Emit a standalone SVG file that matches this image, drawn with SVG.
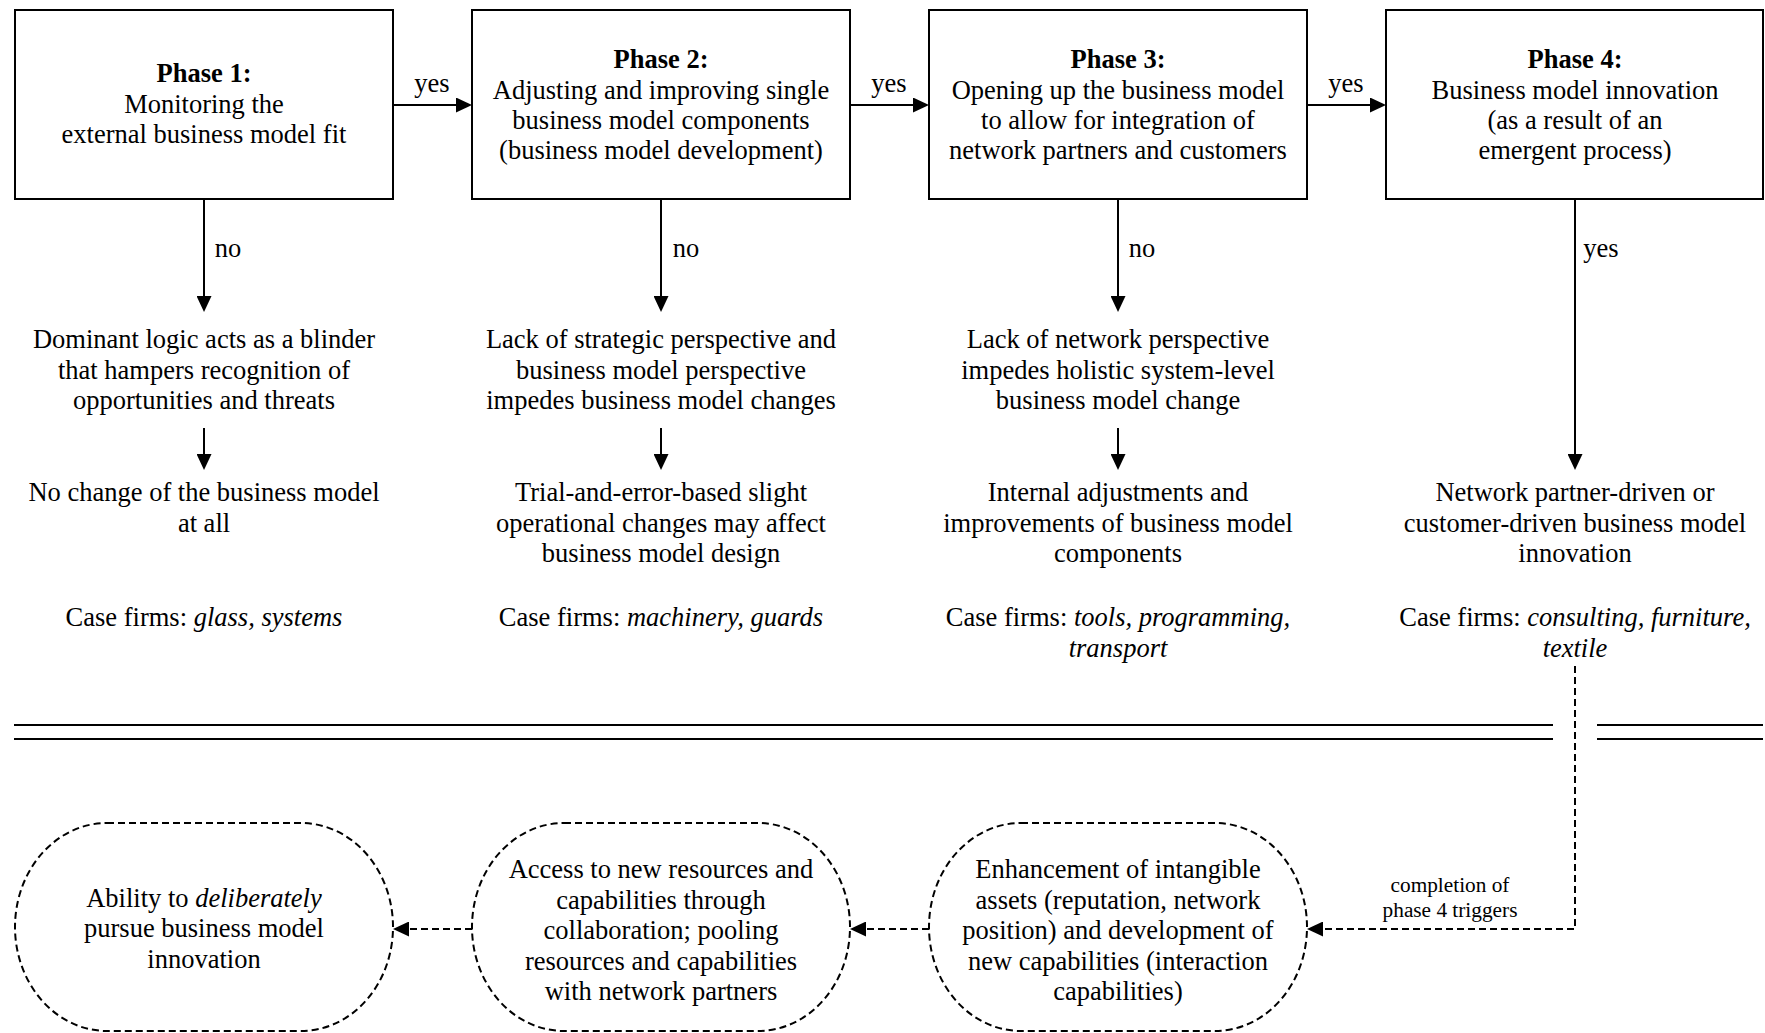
<svg xmlns="http://www.w3.org/2000/svg" width="1765" height="1033" viewBox="0 0 1765 1033">
  <style>
    .bg { fill: #ffffff; }
    .box { fill: #ffffff; stroke: #000000; stroke-width: 2; }
    .oval { fill: #ffffff; stroke: #000000; stroke-width: 2; stroke-dasharray: 7 4; }
    .t { font-family: "Liberation Serif", "Times New Roman", serif; font-size: 26.5px; fill: #000000; text-anchor: middle; }
    .small { font-family: "Liberation Serif", "Times New Roman", serif; font-size: 21.3px; fill: #000000; text-anchor: middle; }
    .b { font-weight: bold; }
    .i { font-style: italic; }
    .line { fill: none; stroke: #000000; stroke-width: 2; }
    .dash { fill: none; stroke: #000000; stroke-width: 2; stroke-dasharray: 7 4; }
    .arrow { marker-end: url(#head); }
  </style>
  <defs>
    <marker id="head" markerUnits="userSpaceOnUse" markerWidth="16" markerHeight="15" refX="6" refY="7.5" orient="auto">
      <path d="M0,0 L16,7.5 L0,15 Z" fill="#000000"/>
    </marker>
  </defs>

  <rect class="bg" x="0" y="0" width="1765" height="1033"/>

  <!-- connectors -->
  <g id="connectors">
    <!-- yes: phase to phase -->
    <path class="line arrow" d="M393,105 H462"/>
    <path class="line arrow" d="M850,105 H919"/>
    <path class="line arrow" d="M1307,105 H1376"/>
    <!-- outcomes below each phase -->
    <path class="line arrow" d="M204,200 V302"/>
    <path class="line arrow" d="M661,200 V302"/>
    <path class="line arrow" d="M1118,200 V302"/>
    <path class="line arrow" d="M1575,200 V460"/>
    <path class="line arrow" d="M204,428 V460"/>
    <path class="line arrow" d="M661,428 V460"/>
    <path class="line arrow" d="M1118,428 V460"/>
    <!-- separator -->
    <path class="line" d="M14,725 H1553 M1597,725 H1763 M14,739 H1553 M1597,739 H1763"/>
    <!-- lower chain -->
    <path class="dash arrow" d="M1575,666 V929 H1317"/>
    <path class="dash arrow" d="M929,929 H860"/>
    <path class="dash arrow" d="M472,929 H403"/>
    <!-- connector labels -->
    <text class="t" x="432" y="92">yes</text>
    <text class="t" x="889" y="92">yes</text>
    <text class="t" x="1346" y="92">yes</text>
    <text class="t" x="228" y="257">no</text>
    <text class="t" x="686" y="257">no</text>
    <text class="t" x="1142" y="257">no</text>
    <text class="t" x="1601" y="257">yes</text>
    <text class="small" x="1450" y="892">completion of</text>
    <text class="small" x="1450" y="917">phase 4 triggers</text>
  </g>

  <!-- phase boxes -->
  <g id="phase1">
    <rect class="box" x="15" y="10" width="378" height="189"/>
    <text class="t" x="204" y="82"><tspan class="b">Phase 1:</tspan><tspan x="204" y="112.5">Monitoring the</tspan><tspan x="204" y="143">external business model fit</tspan></text>
  </g>
  <g id="phase2">
    <rect class="box" x="472" y="10" width="378" height="189"/>
    <text class="t" x="661" y="68"><tspan class="b">Phase 2:</tspan><tspan x="661" y="98.5">Adjusting and improving single</tspan><tspan x="661" y="129">business model components</tspan><tspan x="661" y="159">(business model development)</tspan></text>
  </g>
  <g id="phase3">
    <rect class="box" x="929" y="10" width="378" height="189"/>
    <text class="t" x="1118" y="68"><tspan class="b">Phase 3:</tspan><tspan x="1118" y="98.5">Opening up the business model</tspan><tspan x="1118" y="129">to allow for integration of</tspan><tspan x="1118" y="159">network partners and customers</tspan></text>
  </g>
  <g id="phase4">
    <rect class="box" x="1386" y="10" width="377" height="189"/>
    <text class="t" x="1575" y="68"><tspan class="b">Phase 4:</tspan><tspan x="1575" y="98.5">Business model innovation</tspan><tspan x="1575" y="129">(as a result of an</tspan><tspan x="1575" y="159">emergent process)</tspan></text>
  </g>

  <!-- barriers -->
  <g id="barrier1">
    <text class="t" x="204" y="348">Dominant logic acts as a blinder<tspan x="204" y="378.5">that hampers recognition of</tspan><tspan x="204" y="409">opportunities and threats</tspan></text>
  </g>
  <g id="barrier2">
    <text class="t" x="661" y="348">Lack of strategic perspective and<tspan x="661" y="378.5">business model perspective</tspan><tspan x="661" y="409">impedes business model changes</tspan></text>
  </g>
  <g id="barrier3">
    <text class="t" x="1118" y="348">Lack of network perspective<tspan x="1118" y="378.5">impedes holistic system-level</tspan><tspan x="1118" y="409">business model change</tspan></text>
  </g>

  <!-- outcomes -->
  <g id="outcome1">
    <text class="t" x="204" y="501">No change of the business model<tspan x="204" y="531.5">at all</tspan></text>
    <text class="t" x="204" y="626">Case firms: <tspan class="i">glass, systems</tspan></text>
  </g>
  <g id="outcome2">
    <text class="t" x="661" y="501">Trial-and-error-based slight<tspan x="661" y="531.5">operational changes may affect</tspan><tspan x="661" y="562">business model design</tspan></text>
    <text class="t" x="661" y="626">Case firms: <tspan class="i">machinery, guards</tspan></text>
  </g>
  <g id="outcome3">
    <text class="t" x="1118" y="501">Internal adjustments and<tspan x="1118" y="531.5">improvements of business model</tspan><tspan x="1118" y="562">components</tspan></text>
    <text class="t" x="1118" y="626">Case firms: <tspan class="i">tools, programming,</tspan><tspan class="i" x="1118" y="656.5">transport</tspan></text>
  </g>
  <g id="outcome4">
    <text class="t" x="1575" y="501">Network partner-driven or<tspan x="1575" y="531.5">customer-driven business model</tspan><tspan x="1575" y="562">innovation</tspan></text>
    <text class="t" x="1575" y="626">Case firms: <tspan class="i">consulting, furniture,</tspan><tspan class="i" x="1575" y="656.5">textile</tspan></text>
  </g>

  <!-- capability chain -->
  <g id="enhancement">
    <rect class="oval" x="929" y="823" width="378" height="208" rx="92" ry="104"/>
    <text class="t" x="1118" y="878">Enhancement of intangible<tspan x="1118" y="908.5">assets (reputation, network</tspan><tspan x="1118" y="939">position) and development of</tspan><tspan x="1118" y="969.5">new capabilities (interaction</tspan><tspan x="1118" y="1000">capabilities)</tspan></text>
  </g>
  <g id="access">
    <rect class="oval" x="472" y="823" width="378" height="208" rx="92" ry="104"/>
    <text class="t" x="661" y="878">Access to new resources and<tspan x="661" y="908.5">capabilities through</tspan><tspan x="661" y="939">collaboration; pooling</tspan><tspan x="661" y="969.5">resources and capabilities</tspan><tspan x="661" y="1000">with network partners</tspan></text>
  </g>
  <g id="ability">
    <rect class="oval" x="15" y="823" width="378" height="208" rx="92" ry="104"/>
    <text class="t" x="204" y="906.5">Ability to <tspan class="i">deliberately</tspan><tspan x="204" y="937">pursue business model</tspan><tspan x="204" y="967.5">innovation</tspan></text>
  </g>
</svg>
